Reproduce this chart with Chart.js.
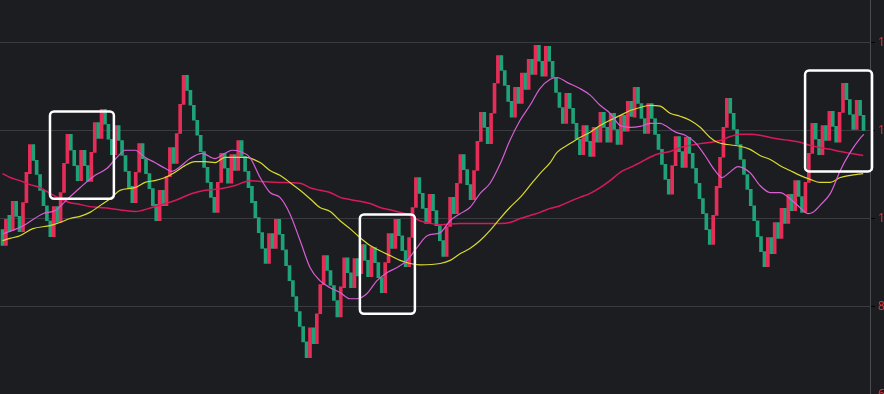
<!DOCTYPE html>
<html>
<head>
<meta charset="utf-8">
<script src="https://cdn.jsdelivr.net/npm/chart.js@4.4.1/dist/chart.umd.min.js"></script>
<style>
  html, body { margin: 0; padding: 0; background: #1c1d21; overflow: hidden; width: 884px; height: 394px; }
  #kline { position: absolute; left: 0; top: -10px; }
</style>
</head>
<body>
<canvas id="kline" width="910" height="415"></canvas>
<script>
// candle bodies, one per trading day (open / close)
const opens = [
  97.5, 93.9, 100.7, 97.3, 103.9, 100.5, 97.0, 103.6, 110.2, 116.8,
  113.2, 110.0, 106.4, 102.9, 99.5, 95.9, 102.7, 99.1, 105.9, 112.5,
  119.1, 115.5, 112.0, 108.6, 115.5, 112.0, 108.4, 115.0, 121.8, 118.2,
  124.8, 121.4, 118.0, 114.5, 121.1, 117.7, 114.3, 110.7, 107.3, 103.6,
  110.5, 117.0, 113.6, 110.2, 106.8, 103.2, 99.5, 106.4, 102.9, 109.5,
  116.1, 112.5, 119.3, 125.9, 132.5, 129.1, 125.7, 122.3, 118.9, 115.2,
  111.6, 108.2, 104.8, 101.4, 108.2, 114.8, 111.4, 108.0, 114.5, 110.9,
  117.7, 114.1, 110.7, 107.3, 103.9, 100.2, 96.8, 93.2, 89.8, 96.6,
  93.2, 99.8, 96.4, 92.9, 89.3, 85.9, 82.3, 78.9, 75.5, 72.0,
  68.4, 75.2, 71.6, 78.4, 85.0, 91.6, 88.2, 84.8, 81.4, 77.7,
  84.3, 91.1, 87.7, 84.3, 90.9, 87.5, 94.1, 90.5, 86.8, 93.4,
  90.0, 86.6, 83.2, 90.0, 96.6, 93.2, 99.8, 96.1, 92.7, 89.1,
  95.7, 102.5, 109.3, 105.7, 102.3, 98.9, 105.5, 101.8, 98.4, 95.0,
  91.4, 98.2, 104.8, 101.1, 108.0, 114.5, 111.1, 107.7, 104.3, 110.9,
  117.5, 124.1, 120.7, 117.0, 123.9, 130.7, 137.0, 133.6, 130.2, 126.6,
  123.0, 129.8, 126.1, 133.0, 129.3, 136.1, 132.7, 139.3, 135.7, 132.3,
  139.1, 135.7, 132.0, 128.6, 125.2, 121.6, 128.4, 125.0, 121.6, 118.0,
  114.5, 121.1, 117.5, 114.1, 120.7, 117.3, 124.1, 120.7, 117.3, 123.9,
  120.2, 116.8, 123.4, 119.8, 126.6, 123.0, 129.8, 126.1, 122.7, 119.3,
  126.1, 122.7, 119.1, 115.7, 112.3, 108.9, 105.5, 112.0, 118.6, 115.2,
  111.6, 118.4, 114.8, 111.4, 108.0, 104.5, 101.1, 97.5, 94.1, 100.7,
  107.0, 113.9, 120.7, 127.3, 123.9, 120.2, 116.8, 113.4, 110.0, 106.6,
  102.9, 99.5, 95.9, 92.5, 89.1, 95.7, 92.0, 99.1, 95.5, 102.3,
  98.9, 105.5, 101.8, 108.6, 105.0, 101.4, 108.2, 114.8, 121.6, 118.0,
  114.5, 121.1, 117.7, 124.3, 120.9, 117.3, 124.1, 130.7, 127.0, 123.6,
  120.2, 126.8, 123.4
];
const closes = [
  93.9, 99.8, 97.0, 103.9, 100.5, 97.0, 103.6, 110.5, 116.8, 113.2,
  110.0, 106.4, 102.9, 99.5, 95.9, 102.7, 99.1, 105.9, 112.5, 119.1,
  115.5, 112.0, 108.6, 115.5, 112.0, 108.4, 115.0, 121.8, 118.2, 124.8,
  121.4, 118.0, 114.5, 121.1, 117.7, 114.3, 110.7, 107.0, 103.6, 110.5,
  117.0, 113.6, 110.2, 106.8, 102.9, 99.5, 106.4, 102.9, 109.5, 116.1,
  112.5, 119.3, 125.9, 132.5, 129.1, 125.7, 122.3, 118.9, 115.2, 111.6,
  108.2, 104.8, 101.4, 108.2, 114.8, 111.4, 108.0, 114.5, 110.9, 117.7,
  114.1, 110.7, 107.0, 103.6, 100.2, 96.8, 93.2, 89.8, 96.6, 93.2,
  99.8, 96.4, 92.9, 89.3, 85.9, 82.3, 78.9, 75.5, 72.0, 68.4,
  75.2, 71.6, 78.4, 85.0, 91.6, 88.2, 84.8, 81.4, 77.7, 84.5,
  91.1, 87.7, 84.3, 90.9, 87.0, 94.1, 90.5, 86.8, 93.6, 90.0,
  86.6, 83.2, 90.0, 96.6, 93.2, 99.8, 96.1, 92.7, 89.1, 95.7,
  102.5, 109.3, 105.7, 102.3, 98.9, 105.5, 101.8, 98.4, 95.0, 91.4,
  98.2, 104.8, 101.1, 108.0, 114.5, 111.1, 107.7, 104.3, 110.9, 117.5,
  124.1, 120.7, 117.0, 123.9, 130.7, 137.0, 133.6, 130.2, 126.6, 123.0,
  129.8, 126.1, 133.0, 129.3, 136.1, 132.7, 139.3, 135.7, 132.3, 139.1,
  135.7, 132.0, 128.6, 125.2, 121.6, 128.4, 125.0, 121.6, 118.0, 114.5,
  121.1, 117.5, 114.1, 120.7, 117.3, 124.1, 120.7, 117.3, 123.9, 120.2,
  116.8, 123.4, 119.8, 126.6, 123.2, 129.8, 126.1, 122.7, 119.3, 126.1,
  122.7, 119.1, 115.7, 112.3, 108.9, 105.5, 112.0, 118.6, 115.2, 111.6,
  118.4, 114.8, 111.4, 108.0, 104.5, 101.1, 97.5, 94.1, 100.7, 107.3,
  113.9, 120.7, 127.3, 123.9, 120.2, 116.8, 113.4, 110.0, 106.6, 102.9,
  99.5, 95.9, 92.5, 89.1, 95.7, 92.0, 99.1, 95.5, 102.3, 98.9,
  105.5, 101.8, 108.6, 105.0, 101.4, 108.2, 114.8, 121.6, 118.0, 114.5,
  121.1, 117.7, 124.3, 120.9, 117.3, 124.1, 130.7, 127.0, 123.6, 120.2,
  126.8, 123.4, 120.0
];

// moving averages, read as [day index, value]
const maShort = [
  [0, 96.5], [5.1, 98.0], [6.6, 98.6], [11.8, 101.1], [15.4, 101.8], [18.9, 104.3],
  [22.7, 107.0], [27.1, 109.8], [30.6, 111.4], [33.5, 113.9], [35.9, 115.5], [38.8, 115.5],
  [41.7, 113.9], [44.6, 112.7], [47.6, 111.4], [49.6, 110.7], [51.4, 111.4], [54.9, 113.6],
  [58.4, 114.8], [62.2, 113.6], [65.1, 114.8], [67.2, 115.5], [69.5, 115.2], [72.4, 113.9],
  [75.4, 109.3], [78.3, 105.9], [81.2, 104.8], [84.1, 101.1], [87.1, 95.0], [90.0, 88.9],
  [92.9, 85.9], [95.9, 84.3], [98.8, 83.2], [101.7, 81.8], [103.8, 81.8], [106.7, 83.0],
  [109.6, 85.9], [112.5, 87.7], [115.5, 88.9], [118.4, 90.5], [121.3, 93.4], [124.3, 96.1],
  [128.1, 96.8], [131.0, 99.5], [133.9, 101.1], [136.8, 102.5], [139.8, 105.7], [142.7, 108.0],
  [145.6, 112.3], [148.5, 117.7], [151.5, 122.3], [154.4, 125.7], [157.3, 129.5], [160.3, 131.6],
  [162.3, 132.0], [165.2, 130.9], [169.0, 129.5], [172.0, 128.0], [174.9, 125.7], [177.8, 123.9],
  [180.8, 121.1], [183.7, 120.7], [186.6, 120.9], [189.5, 121.6], [192.5, 121.6], [194.0, 121.1],
  [197.0, 119.6], [199.8, 118.9], [202.7, 117.3], [205.6, 114.3], [208.5, 110.9], [210.6, 109.3],
  [212.4, 110.2], [215.3, 111.8], [218.8, 110.4], [221.7, 107.5], [224.7, 105.9], [227.6, 105.9],
  [230.5, 104.5], [233.4, 102.5], [235.8, 101.1], [237.2, 101.4], [239.3, 103.0], [242.3, 105.7],
  [245.2, 110.9], [248.1, 115.0], [251.0, 118.2], [252.1, 119.1]
];
const maMid = [
  [0, 95.0], [2.2, 95.5], [5.1, 96.1], [8.9, 97.7], [13.9, 98.4], [16.8, 99.1], [19.8, 100.0],
  [22.7, 100.5], [25.6, 101.4], [28.5, 102.9], [31.5, 104.5], [34.4, 106.4], [38.8, 107.0],
  [41.7, 108.2], [44.6, 108.6], [47.6, 109.3], [50.5, 110.5], [53.4, 112.0], [56.3, 112.9],
  [59.3, 112.9], [62.2, 112.7], [65.1, 113.9], [71.0, 113.9], [75.4, 112.7], [78.3, 110.9],
  [81.2, 109.8], [84.1, 108.2], [87.1, 106.4], [90.0, 104.5], [92.9, 102.5], [95.9, 101.6],
  [98.8, 99.5], [101.7, 97.7], [104.6, 95.7], [107.6, 93.9], [110.5, 92.7], [113.4, 91.6],
  [116.4, 90.5], [119.3, 89.8], [122.2, 89.5], [128.1, 89.8], [131.0, 90.5], [133.9, 92.0],
  [136.8, 93.2], [139.8, 95.0], [142.7, 97.3], [145.6, 100.0], [148.5, 102.5], [151.5, 104.8],
  [154.4, 107.5], [157.3, 110.2], [160.3, 112.7], [162.3, 115.0], [166.1, 117.0], [169.0, 118.4],
  [172.0, 119.6], [174.9, 121.1], [177.8, 122.3], [180.8, 123.4], [183.7, 124.5], [186.6, 125.2],
  [189.5, 125.7], [192.5, 125.5], [195.4, 123.9], [198.3, 123.2], [201.2, 122.3], [204.2, 120.7],
  [207.1, 118.4], [209.2, 117.3], [212.1, 116.8], [215.9, 116.4], [218.8, 115.7], [221.7, 114.3],
  [224.7, 113.4], [227.6, 112.0], [230.5, 110.9], [233.4, 109.8], [236.4, 108.9], [239.3, 108.2],
  [242.3, 108.2], [245.2, 109.3], [248.1, 109.8], [251.9, 110.2]
];
const maLong = [
  [0, 110.2], [2.2, 109.3], [5.1, 108.6], [8.0, 107.7], [11.0, 107.0], [13.9, 105.7], [16.8, 104.5],
  [19.8, 103.6], [22.7, 103.2], [25.6, 102.7], [28.5, 102.5], [31.5, 102.3], [35.9, 101.8],
  [38.8, 101.6], [43.8, 102.5], [47.6, 103.4], [50.5, 104.1], [55.5, 105.7], [59.3, 106.4],
  [64.2, 106.8], [68.1, 107.5], [72.4, 108.6], [75.4, 108.4], [81.2, 108.2], [87.1, 108.0],
  [90.0, 107.0], [92.9, 106.4], [95.9, 105.9], [98.8, 104.8], [101.7, 104.3], [104.6, 103.9],
  [107.6, 103.4], [110.5, 102.5], [113.4, 102.0], [116.4, 101.4], [119.3, 100.7], [122.2, 99.5],
  [125.1, 98.9], [128.1, 98.6], [133.9, 98.9], [139.8, 98.9], [145.6, 98.9], [148.5, 99.1],
  [151.5, 100.0], [154.4, 100.7], [157.3, 101.4], [160.3, 102.3], [163.2, 102.9], [166.1, 103.9],
  [169.0, 104.8], [172.0, 105.7], [174.9, 107.0], [177.8, 108.6], [180.8, 110.5], [183.7, 111.6],
  [186.6, 112.7], [189.5, 113.9], [192.5, 114.8], [195.4, 115.2], [198.3, 116.1], [201.2, 116.6],
  [204.2, 117.0], [210.0, 117.7], [213.0, 118.6], [215.9, 119.1], [218.8, 119.1], [221.7, 118.9],
  [224.7, 118.4], [227.6, 118.0], [230.5, 117.7], [233.4, 117.3], [236.4, 116.6], [239.3, 116.1],
  [242.3, 115.7], [245.2, 115.2], [248.1, 114.8], [251.9, 114.3]
];

// highlighted zones: [from day, to day, high, low]
const zones = [
  [13.9, 32.6, 124.3, 104.5],
  [104.6, 120.7, 100.9, 78.4],
  [234.9, 254.5, 133.6, 110.7]
];

const yTicks = [60, 80, 100, 120, 140];

const UP = '#e52d58';
const DOWN = '#1fa277';

const candles = opens.map((o, i) => ({ x: i, y: [o, closes[i]] }));
const toPts = arr => arr.map(p => ({ x: p[0], y: p[1] }));

const zonePlugin = {
  id: 'zones',
  afterDatasetsDraw(chart) {
    const { ctx, scales } = chart;
    ctx.save();
    ctx.strokeStyle = '#ffffff';
    ctx.lineWidth = 2.5;
    zones.forEach(z => {
      const x0 = scales.x.getPixelForValue(z[0]);
      const x1 = scales.x.getPixelForValue(z[1]);
      const y0 = scales.y.getPixelForValue(z[2]);
      const y1 = scales.y.getPixelForValue(z[3]);
      ctx.beginPath();
      ctx.roundRect(x0, y0, x1 - x0, y1 - y0, 4);
      ctx.stroke();
    });
    ctx.restore();
  }
};

const lineDs = (data, color, width) => ({
  type: 'line',
  data: toPts(data),
  borderColor: color,
  borderWidth: width,
  pointRadius: 0,
  cubicInterpolationMode: 'monotone',
  order: 1
});

new Chart(document.getElementById('kline'), {
  type: 'bar',
  data: {
    datasets: [
      lineDs(maShort, '#d95dd6', 1.2),
      lineDs(maMid, '#dada2e', 1.2),
      lineDs(maLong, '#d81a5c', 1.5),
      {
        data: candles,
        backgroundColor: ctx => {
          const v = ctx.raw;
          return v && v.y[1] >= v.y[0] ? UP : DOWN;
        },
        barThickness: 3,
        order: 2
      }
    ]
  },
  options: {
    responsive: false,
    animation: false,
    layout: { padding: 0 },
    plugins: { legend: { display: false }, tooltip: { enabled: false } },
    scales: {
      x: {
        type: 'linear',
        display: false,
        offset: false,
        grid: { offset: false },
        min: -0.73,
        max: 253.9
      },
      y: {
        position: 'right',
        min: 60,
        max: 149.545,
        afterFit: s => { s.width = 40; },
        afterBuildTicks: s => { s.ticks = yTicks.map(v => ({ value: v })); },
        grid: { color: '#3a3b40', tickColor: '#000000', tickLength: 5 },
        border: { color: '#4a4b50' },
        ticks: {
          color: '#e0343e',
          padding: 3,
          font: { family: 'Noto Sans', size: 12 }
        }
      }
    }
  },
  plugins: [zonePlugin]
});
</script>
</body>
</html>
